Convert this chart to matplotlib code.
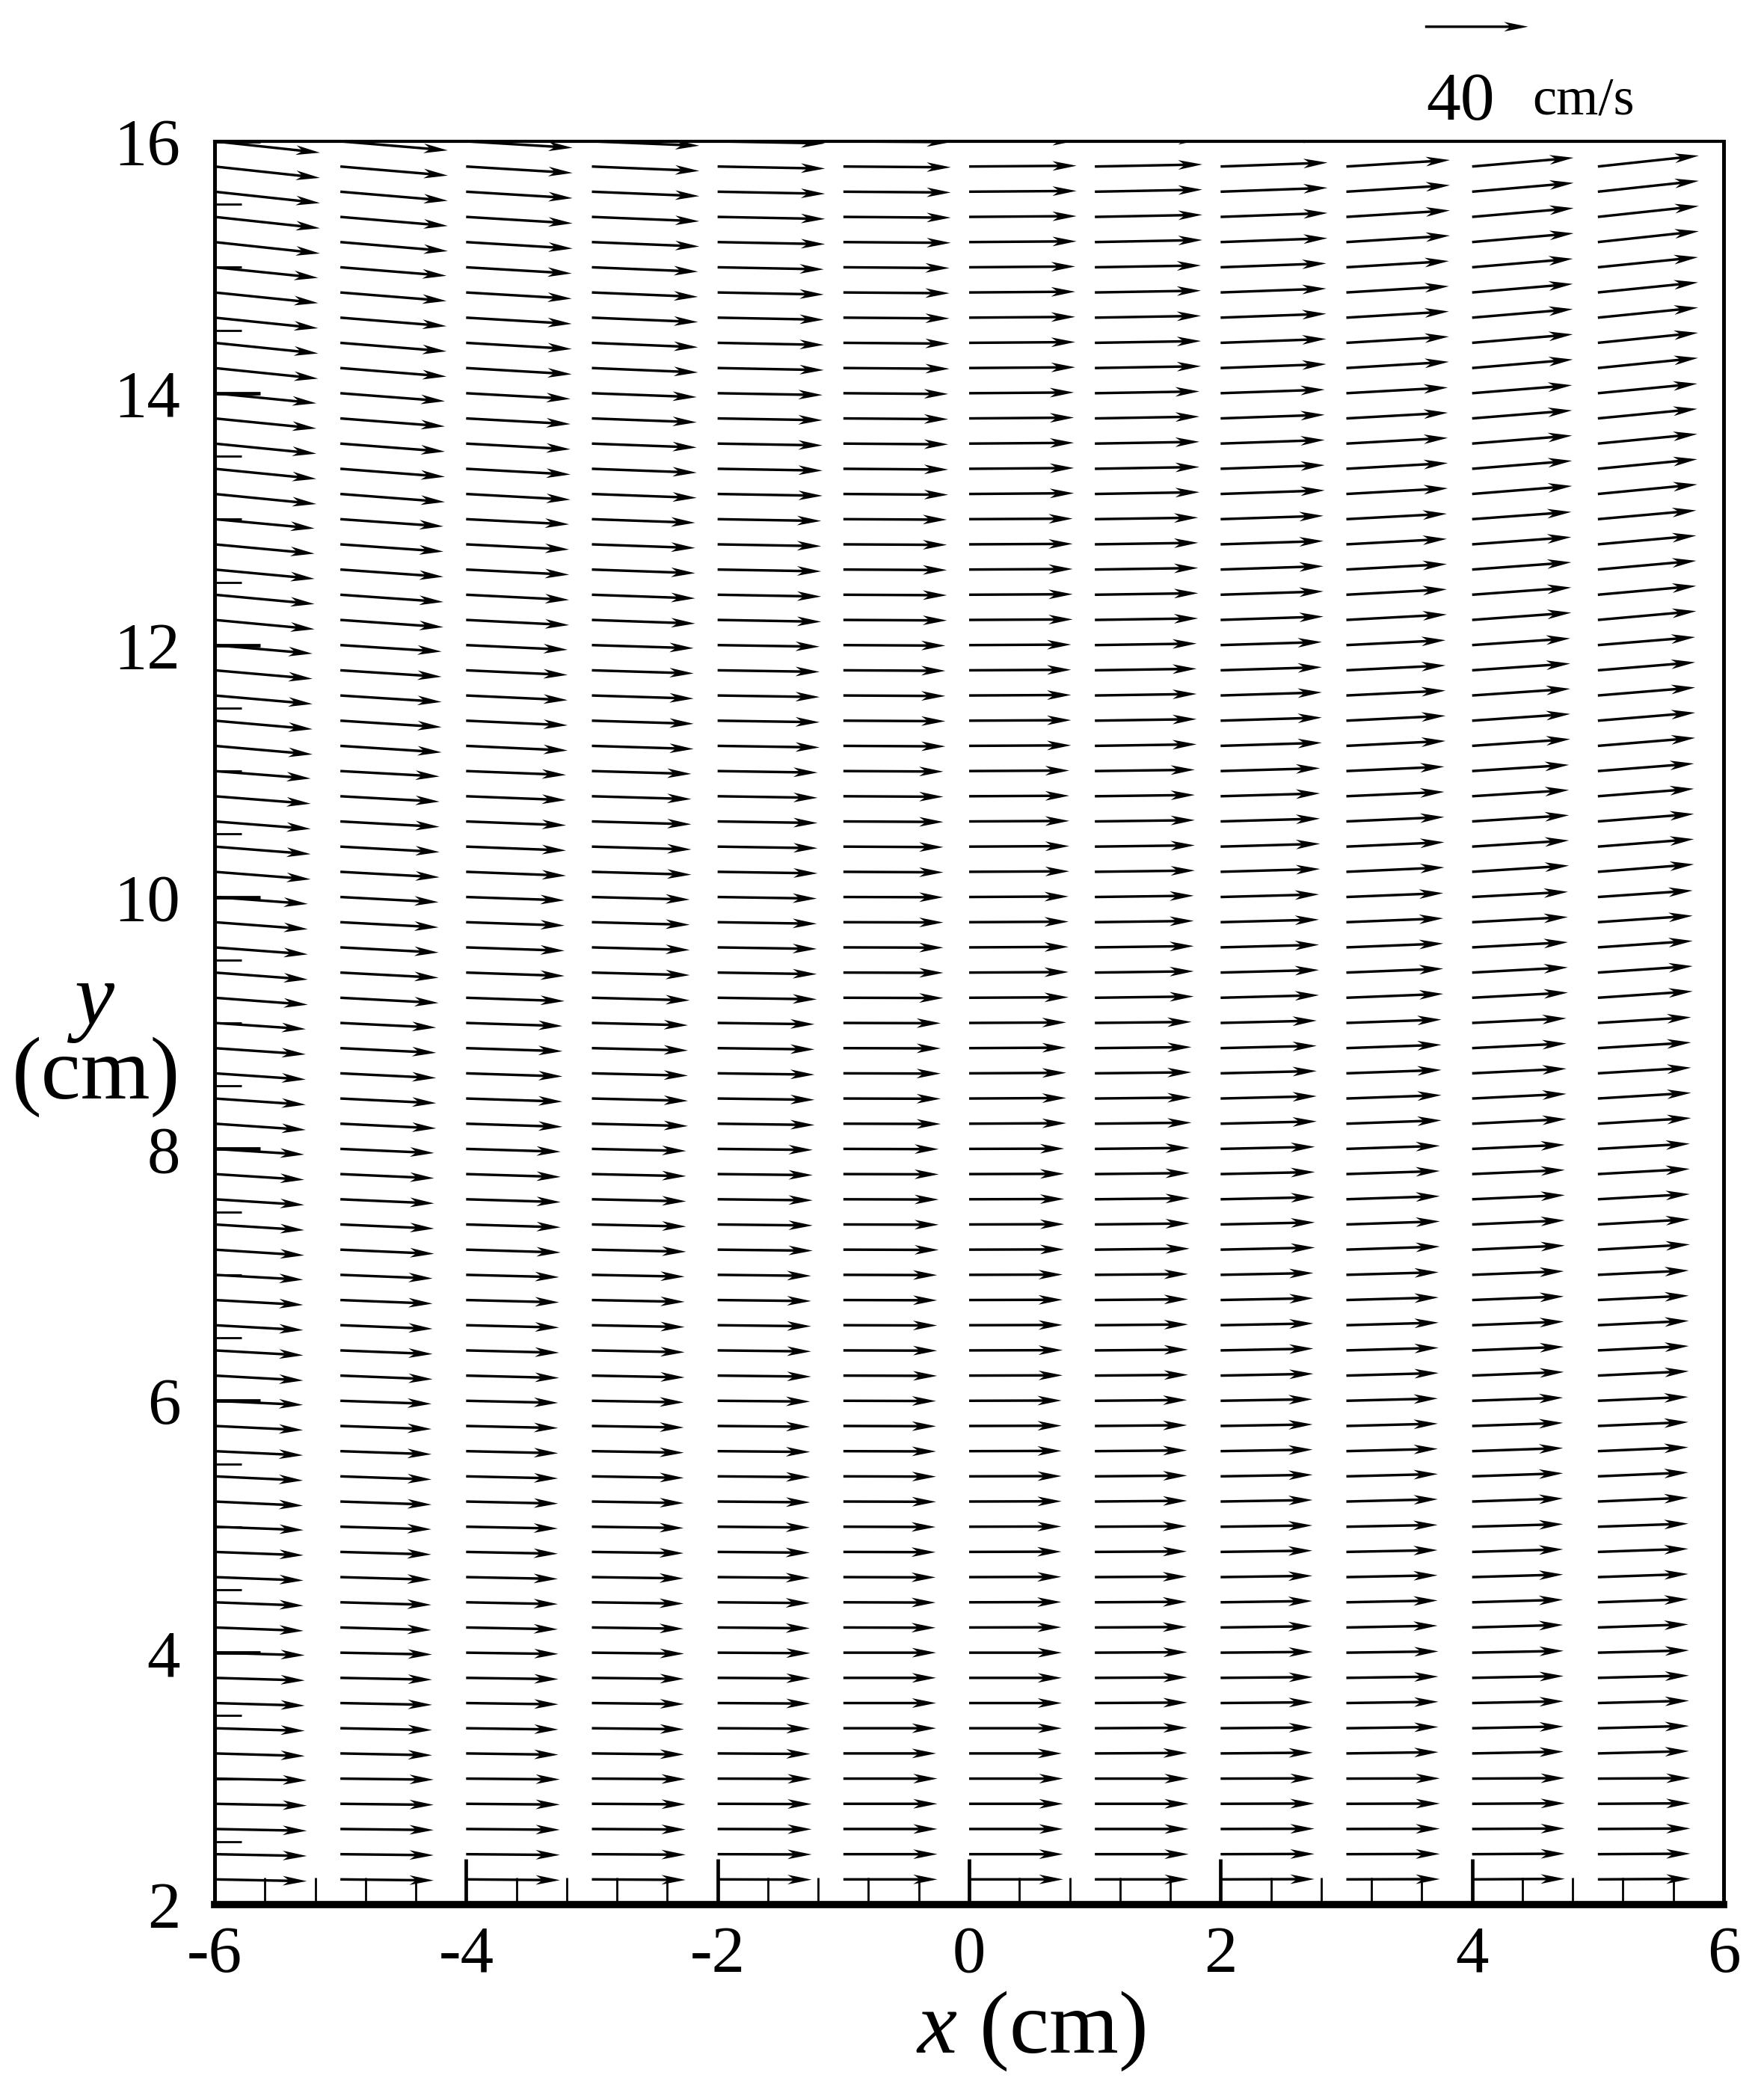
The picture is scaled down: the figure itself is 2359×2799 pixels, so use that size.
import numpy as np
import matplotlib
matplotlib.use("Agg")
import matplotlib.pyplot as plt
from matplotlib.ticker import MultipleLocator

plt.rcParams['font.family'] = ['Liberation Serif', 'DejaVu Serif']
plt.rcParams['mathtext.fontset'] = 'custom'
plt.rcParams['mathtext.it'] = 'Liberation Serif:italic'
plt.rcParams['mathtext.rm'] = 'Liberation Serif'
plt.rcParams['axes.unicode_minus'] = False

# measurement grid (cm)
x_cols = [-6, -5, -4, -3, -2, -1, 0, 1, 2, 3, 4, 5]
y_rows = np.round(np.arange(2.2, 16.01, 0.2), 1)   # 70 rows, 5 per 1-cm band

# horizontal velocity u (cm/s), one row per 1-cm band from y=2.2-3.0 (bottom) to 15.2-16.0 (top)
u_bands = [
    [35.8, 36.2, 36.4, 36.4, 36.5, 36.5, 36.5, 36.4, 36.4, 36.3, 36.0, 35.9],
    [35.0, 35.6, 35.8, 35.8, 36.0, 36.0, 36.0, 35.9, 35.8, 35.7, 35.5, 35.4],
    [34.5, 35.3, 35.6, 35.6, 35.8, 35.8, 35.8, 35.7, 35.6, 35.4, 35.3, 35.1],
    [34.3, 35.4, 35.7, 35.7, 35.9, 36.0, 35.9, 35.8, 35.7, 35.5, 35.3, 35.1],
    [34.4, 35.8, 36.1, 36.0, 36.3, 36.4, 36.3, 36.2, 36.0, 35.8, 35.6, 35.3],
    [34.8, 36.4, 36.7, 36.6, 36.9, 37.0, 36.9, 36.8, 36.6, 36.3, 36.0, 35.7],
    [35.4, 37.2, 37.4, 37.3, 37.6, 37.8, 37.7, 37.5, 37.3, 36.9, 36.6, 36.2],
    [36.2, 38.1, 38.2, 38.0, 38.5, 38.8, 38.6, 38.4, 38.2, 37.6, 37.2, 36.8],
    [37.3, 38.5, 38.8, 38.6, 38.8, 38.8, 38.9, 38.8, 38.6, 38.0, 37.6, 37.3],
    [38.0, 39.3, 39.4, 39.5, 39.6, 39.6, 39.6, 39.5, 39.3, 38.5, 38.1, 37.8],
    [38.8, 40.0, 40.0, 40.1, 40.2, 40.2, 40.2, 40.1, 39.9, 39.0, 38.5, 38.2],
    [39.5, 40.6, 40.5, 40.7, 40.7, 40.7, 40.7, 40.6, 40.4, 39.4, 38.8, 38.6],
    [40.2, 41.2, 41.0, 41.2, 41.2, 41.2, 41.2, 41.2, 41.0, 39.8, 39.1, 38.9],
    [40.9, 41.7, 41.3, 41.7, 41.7, 41.7, 41.7, 41.7, 41.5, 40.2, 39.4, 39.2],
]

# vertical velocity v (cm/s), same layout
v_bands = [
    [-0.7, -0.4, -0.3, -0.2, -0.1, 0.0, 0.0, 0.0, 0.1, 0.1, 0.2, 0.2],
    [-1.0, -0.7, -0.5, -0.4, -0.2, 0.0, 0.0, 0.2, 0.3, 0.5, 0.7, 0.9],
    [-1.3, -1.0, -0.7, -0.5, -0.3, -0.1, 0.1, 0.2, 0.5, 0.7, 1.0, 1.2],
    [-1.6, -1.2, -0.8, -0.6, -0.3, -0.1, 0.1, 0.3, 0.6, 0.9, 1.2, 1.5],
    [-1.9, -1.4, -0.9, -0.7, -0.4, -0.1, 0.1, 0.3, 0.7, 1.0, 1.4, 1.7],
    [-2.2, -1.6, -1.1, -0.8, -0.4, -0.1, 0.1, 0.4, 0.8, 1.2, 1.6, 2.0],
    [-2.4, -1.8, -1.2, -0.9, -0.5, -0.1, 0.2, 0.4, 0.9, 1.3, 1.8, 2.2],
    [-2.7, -2.0, -1.3, -1.0, -0.6, -0.1, 0.2, 0.5, 1.0, 1.5, 2.0, 2.5],
    [-2.9, -2.1, -1.5, -1.1, -0.6, -0.2, 0.2, 0.5, 1.1, 1.7, 2.4, 2.9],
    [-3.3, -2.5, -1.8, -1.2, -0.6, -0.2, 0.2, 0.6, 1.2, 1.9, 2.6, 3.1],
    [-3.6, -2.8, -2.0, -1.4, -0.7, -0.2, 0.2, 0.6, 1.3, 2.1, 2.8, 3.4],
    [-3.9, -3.1, -2.2, -1.5, -0.7, -0.3, 0.3, 0.7, 1.4, 2.2, 3.1, 3.7],
    [-4.1, -3.3, -2.4, -1.7, -0.8, -0.3, 0.3, 0.7, 1.5, 2.4, 3.3, 3.9],
    [-4.4, -3.5, -2.5, -1.7, -0.8, -0.3, 0.3, 0.8, 1.5, 2.5, 3.4, 4.2],
]

key_speed = 40  # reference vector, cm/s

U = np.repeat(np.array(u_bands), 5, axis=0)
V = np.repeat(np.array(v_bands), 5, axis=0)
X, Y = np.meshgrid(x_cols, y_rows)

W, H = 2359, 2799
fig = plt.figure(figsize=(W / 100, H / 100), dpi=100)
ax = fig.add_axes([287 / W, 1 - 2547 / H, (2305 - 287) / W, (2547 - 189) / H])

Q = ax.quiver(X, Y, U, V, angles='xy', scale_units='xy', scale=48.8,
              units='dots', width=3.4, headwidth=3.8, headlength=9.5,
              headaxislength=7.5, color='black')

ax.set_xlim(-6, 6)
ax.set_ylim(2, 16)

# reference vector above the plot
ax.quiverkey(Q, 4.036, 16.91, key_speed, label=' ', coordinates='data', labelpos='S')
fig.text(1953 / W, 1 - 160 / H, str(key_speed), fontsize=66, ha='center', va='baseline')
fig.text(2049 / W, 1 - 152 / H, 'cm/s', fontsize=52, ha='left', va='baseline')

# ticks
ax.set_xticks(np.arange(-6, 7, 2))
ax.set_yticks(np.arange(2, 17, 2))
ax.xaxis.set_minor_locator(MultipleLocator(0.4))
ax.yaxis.set_minor_locator(MultipleLocator(0.5))
ax.tick_params(which='both', direction='in', top=False, right=False, labelsize=64)
ax.tick_params(which='major', length=44, width=3.4)
ax.tick_params(which='minor', length=26, width=2.0)
ax.tick_params(axis='x', which='major', pad=20)
ax.tick_params(axis='y', which='major', pad=33)

for side, lw in [('left', 3.6), ('right', 3.6), ('top', 3.0), ('bottom', 7.0)]:
    ax.spines[side].set_linewidth(lw)

# axis titles
fig.text(1378 / W, 1 - 2716 / H, r'$x$ (cm)', fontsize=86, ha='center', va='center')
fig.text(123 / W, 1 - 1343 / H, r'$y$', fontsize=86, ha='center', va='center')
fig.text(128 / W, 1 - 1440 / H, '(cm)', fontsize=86, ha='center', va='center')

fig.savefig('out.png', dpi=100)
